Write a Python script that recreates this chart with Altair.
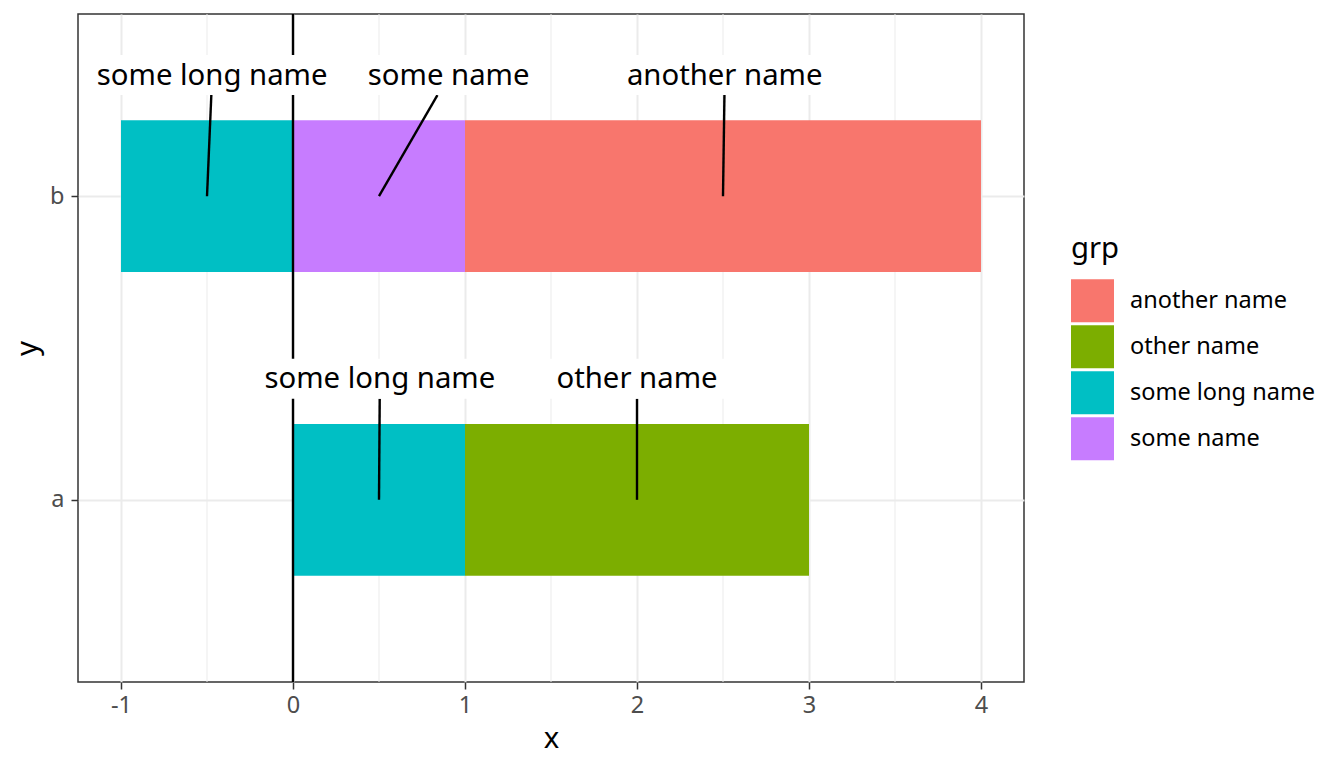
import json
import altair as alt
import pandas as pd

# ---- data ----
y_levels = ["a", "b"]
bar_y = ["b", "b", "b", "a", "a"]
bar_grp = ["some long name", "some name", "another name", "some long name", "other name"]
bar_start = [-1, 0, 1, 0, 1]
bar_end = [0, 1, 4, 1, 3]
label_x = [-0.47, 0.905, 2.51, 0.505, 2.0]

x_breaks = [-1, 0, 1, 2, 3, 4]
x_minor = [-0.5, 0.5, 1.5, 2.5, 3.5]
vline_x = [0]

grp_levels = ["another name", "other name", "some long name", "some name"]
grp_colors = ["#F8766D", "#7CAE00", "#00BFC4", "#C77CFF"]

# ---- styling / label-box geometry (sizes) ----
BOX_HALF = {"some long name": 0.72, "some name": 0.52, "another name": 0.62, "other name": 0.515}
LABEL_DY = 0.397
BOX_LO = 0.333
BOX_HI = 0.465
BAR_HALF = 0.25
FONT = "Noto Sans"
LINE_W = 2.4

df = pd.DataFrame({"y": bar_y, "grp": bar_grp, "start": bar_start, "end": bar_end, "lx": label_x})
df["hw"] = df["grp"].map(BOX_HALF)

xscale = alt.Scale(domain=[-1.25, 4.25], nice=False, zero=False)
yscale = alt.Scale(domain=[0.4, 2.6], nice=False, zero=False)

x_axis = alt.Axis(
    title="x", values=x_breaks, labelExpr="'' + datum.value", grid=True, gridColor="#EBEBEB", gridWidth=2,
    tickColor="#333333", tickSize=7, tickWidth=1.5, labelColor="#4D4D4D", labelFontSize=23.5,
    labelPadding=4, titleFontSize=29.3, titleFontWeight="normal", titleColor="black",
    titlePadding=8, domain=False, labelFont=FONT, titleFont=FONT,
)
y_axis = alt.Axis(
    title="y", values=[1, 2], labelExpr=f"{json.dumps(y_levels)}[datum.value - 1]",
    grid=True, gridColor="#EBEBEB", gridWidth=2,
    tickColor="#333333", tickSize=7, tickWidth=1.5, labelColor="#4D4D4D", labelFontSize=23.5,
    labelPadding=7, titleFontSize=29.3, titleFontWeight="normal", titleColor="black",
    titlePadding=7, domain=False, labelFont=FONT, titleFont=FONT,
)

base = alt.Chart(df).transform_calculate(
    yn=f"indexof({json.dumps(y_levels)}, datum.y) + 1",
    mid="(datum.start + datum.end) / 2",
).transform_calculate(
    y0=f"datum.yn - {BAR_HALF}",
    y1=f"datum.yn + {BAR_HALF}",
    ly=f"datum.yn + {LABEL_DY}",
    by0=f"datum.yn + {BOX_LO}",
    by1=f"datum.yn + {BOX_HI}",
    bx0="datum.lx - datum.hw",
    bx1="datum.lx + datum.hw",
    sx2=f"datum.mid + (datum.lx - datum.mid) * {BOX_LO} / {LABEL_DY}",
    sy2=f"datum.yn + {BOX_LO}",
)

minor = alt.Chart(pd.DataFrame({"m": x_minor})).mark_rule(color="#EBEBEB", strokeWidth=1).encode(
    x=alt.X("m:Q", scale=xscale, axis=x_axis)
)

bars = base.mark_rect().encode(
    x=alt.X("start:Q", scale=xscale, axis=x_axis),
    x2="end:Q",
    y=alt.Y("y0:Q", scale=yscale, axis=y_axis),
    y2="y1:Q",
    color=alt.Color(
        "grp:N",
        scale=alt.Scale(domain=grp_levels, range=grp_colors),
        legend=alt.Legend(
            title="grp", orient="none", legendX=993, legendY=221, symbolType="square",
            symbolSize=1849, symbolStrokeWidth=0, symbolOpacity=1, labelFontSize=23.5,
            labelColor="black", titleFontSize=29.3, titleFontWeight="normal", titleColor="black",
            titlePadding=15, rowPadding=3, labelOffset=16, padding=0, labelLimit=400,
            labelFont=FONT, titleFont=FONT,
        ),
    ),
)

vline = alt.Chart(pd.DataFrame({"v": vline_x})).mark_rule(color="black", strokeWidth=LINE_W).encode(
    x=alt.X("v:Q", scale=xscale, axis=x_axis)
)

segs = base.mark_rule(color="black", strokeWidth=LINE_W).encode(
    x=alt.X("mid:Q", scale=xscale, axis=x_axis),
    x2="sx2:Q",
    y=alt.Y("yn:Q", scale=yscale, axis=y_axis),
    y2="sy2:Q",
)

boxes = base.mark_rect(color="white").encode(
    x=alt.X("bx0:Q", scale=xscale, axis=x_axis),
    x2="bx1:Q",
    y=alt.Y("by0:Q", scale=yscale, axis=y_axis),
    y2="by1:Q",
)

texts = base.mark_text(fontSize=29.3, font=FONT, color="black", baseline="middle", align="center").encode(
    x=alt.X("lx:Q", scale=xscale, axis=x_axis),
    y=alt.Y("ly:Q", scale=yscale, axis=y_axis),
    text="grp:N",
)

chart = alt.layer(minor, bars, vline, segs, boxes, texts).properties(
    width=946, height=668,
    autosize=alt.AutoSizeParams(type="none"),
    padding={"left": 70, "top": 6, "right": 312, "bottom": 78},
    background="white",
).configure_view(stroke="#333333", strokeWidth=1.5)

chart.save("out.html", embed_options={"renderer": "svg", "actions": False})
